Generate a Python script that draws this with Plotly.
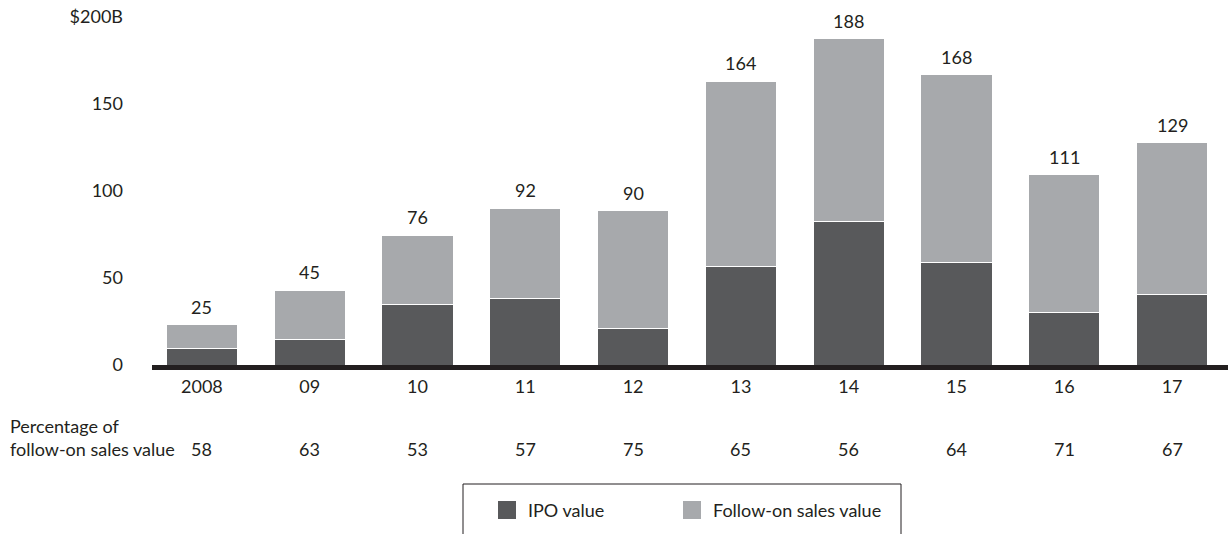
import plotly.graph_objects as go

# data ($B)
years = ["2008", "09", "10", "11", "12", "13", "14", "15", "16", "17"]
ipo_value = [9.2, 14.9, 34.9, 38.3, 20.7, 56.5, 82.6, 59.0, 30.3, 40.8]
follow_on_value = [13.8, 28.2, 39.6, 51.7, 68.0, 106.7, 104.8, 107.8, 78.9, 87.0]
total_labels = [25, 45, 76, 92, 90, 164, 188, 168, 111, 129]
follow_on_pct = [58, 63, 53, 57, 75, 65, 56, 64, 71, 67]

y_ticks = [0, 50, 100, 150, 200]
y_ticktext = ["0", "50", "100", "150", "$200B"]

IPO_COLOR = "#58595b"
FOLLOW_COLOR = "#a7a9ac"
TEXT_COLOR = "#231f20"
FONT = "Lato, 'Open Sans', sans-serif"
FS = 18

W, H = 1231, 534
L, R, T, B = 148, 5, 17, 169
plot_w = W - L - R
plot_h = H - T - B


def px_x(p):
    return (p - L) / plot_w


def px_y(p):
    return (H - B - p) / plot_h


xpos = list(range(len(years)))

fig = go.Figure()
fig.add_trace(go.Bar(x=xpos, y=ipo_value, name="IPO value",
                     marker=dict(color=IPO_COLOR, line=dict(color="white", width=1))))
fig.add_trace(go.Bar(x=xpos, y=follow_on_value, name="Follow-on sales value",
                     marker=dict(color=FOLLOW_COLOR, line=dict(color="white", width=1))))

annotations = []
# totals above bars
for i, a, b, lab in zip(xpos, ipo_value, follow_on_value, total_labels):
    annotations.append(dict(x=i, y=a + b, xref="x", yref="y", text=str(lab),
                            showarrow=False, yanchor="middle", yshift=18,
                            font=dict(size=FS, color=TEXT_COLOR, family=FONT)))

# percentage row
for i, p in zip(xpos, follow_on_pct):
    annotations.append(dict(x=i, y=px_y(449), xref="x", yref="paper", text=str(p),
                            showarrow=False, yanchor="middle",
                            font=dict(size=FS, color=TEXT_COLOR, family=FONT)))

annotations.append(dict(x=px_x(8), y=px_y(437), xref="paper", yref="paper",
                        text="Percentage of<br>follow-on sales value", showarrow=False,
                        xanchor="left", yanchor="middle", align="left",
                        font=dict(size=FS, color=TEXT_COLOR, family=FONT)))

# custom legend
legend_items = [("IPO value", IPO_COLOR, 498), ("Follow-on sales value", FOLLOW_COLOR, 683)]
shapes = []
for name, col, x0 in legend_items:
    shapes.append(dict(type="rect", xref="paper", yref="paper",
                       x0=px_x(x0), x1=px_x(x0 + 18), y0=px_y(519), y1=px_y(501),
                       fillcolor=col, line=dict(width=0)))
    annotations.append(dict(x=px_x(x0 + 28), y=px_y(510), xref="paper", yref="paper",
                            text=name, showarrow=False, xanchor="left", yanchor="middle",
                            font=dict(size=FS, color=TEXT_COLOR, family=FONT)))

# legend frame, open at the bottom
shapes.append(dict(type="path", xref="paper", yref="paper",
                   path=f"M {px_x(463)},{px_y(545)} L {px_x(463)},{px_y(484)} "
                        f"L {px_x(901)},{px_y(484)} L {px_x(901)},{px_y(545)}",
                   line=dict(color=TEXT_COLOR, width=1)))

# thick baseline
shapes.append(dict(type="rect", xref="paper", yref="paper",
                   x0=px_x(152), x1=px_x(1228), y0=px_y(370), y1=px_y(365),
                   fillcolor=TEXT_COLOR, line=dict(width=0)))

fig.update_layout(
    width=W, height=H,
    margin=dict(l=L, r=R, t=T, b=B),
    barmode="stack", bargap=0.34,
    plot_bgcolor="white", paper_bgcolor="white",
    showlegend=False,
    font=dict(family=FONT, size=FS, color=TEXT_COLOR),
    annotations=annotations, shapes=shapes,
)
fig.update_xaxes(range=[-0.5, len(years) - 0.5], tickvals=xpos, ticktext=years,
                 showgrid=False, zeroline=False, showline=False,
                 ticks="", ticklabelstandoff=9,
                 tickfont=dict(size=FS, color=TEXT_COLOR, family=FONT))
fig.update_yaxes(range=[0, 200], tickvals=y_ticks, ticktext=y_ticktext,
                 showgrid=False, zeroline=False, showline=False, ticks="",
                 ticklabelstandoff=24,
                 tickfont=dict(size=FS, color=TEXT_COLOR, family=FONT))

fig.write_html("out.html", config={"displayModeBar": False},
               post_script="document.body.style.margin='0px';")
